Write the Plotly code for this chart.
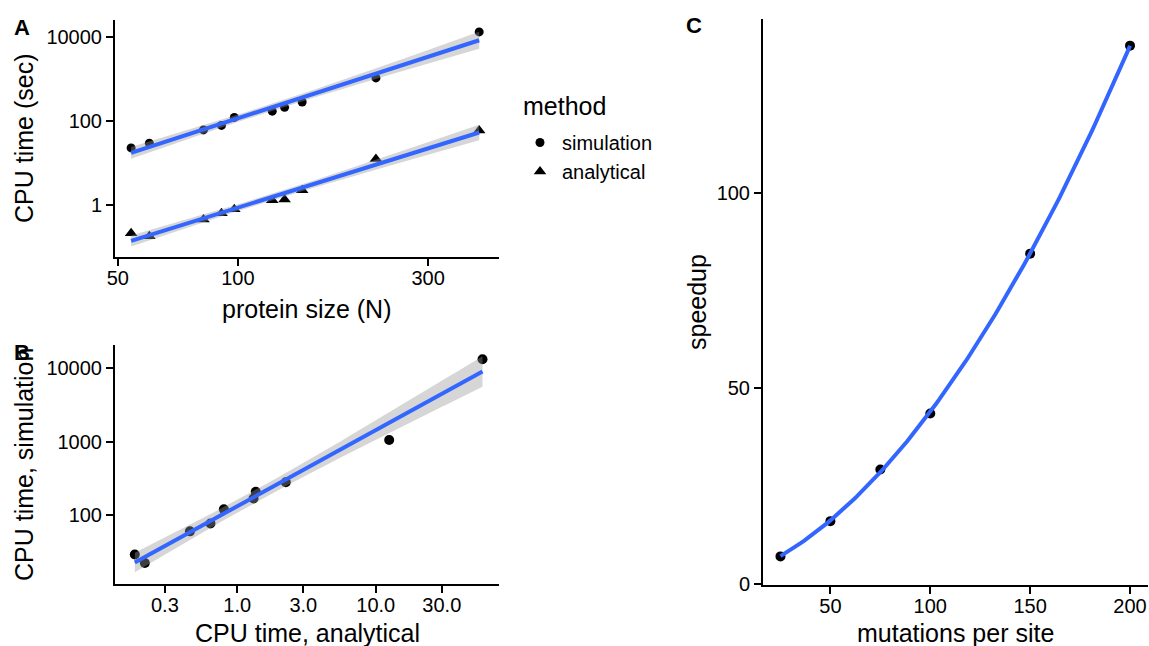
import numpy as np
import plotly.graph_objects as go

# ---------------- data ----------------
protein_size = [54, 60, 82, 91, 98, 122, 131, 145, 222, 403]
time_simulation = [22.8, 29.6, 61, 78, 121, 170, 210, 281, 1050, 13000]
time_analytical = [0.215, 0.182, 0.455, 0.64, 0.80, 1.31, 1.36, 2.24, 12.5, 59.0]

mutations_per_site = [25, 50, 75, 100, 150, 200]
speedup = [7.1, 16.1, 29.3, 43.6, 84.4, 137.5]

a_x_ticks = [50, 100, 300]
a_y_ticks = [1, 100, 10000]
b_x_ticks = [0.3, 1.0, 3.0, 10.0, 30.0]
b_x_labels = ["0.3", "1.0", "3.0", "10.0", "30.0"]
b_y_ticks = [100, 1000, 10000]
c_x_ticks = [50, 100, 150, 200]
c_y_ticks = [0, 50, 100]

# ---------------- helpers ----------------
T_975 = 2.306  # t quantile, df = 8


def loglog_fit(x, y, n=80):
    lx = np.log10(np.asarray(x, float))
    ly = np.log10(np.asarray(y, float))
    b, a = np.polyfit(lx, ly, 1)
    resid = ly - (a + b * lx)
    dof = len(lx) - 2
    s = np.sqrt(np.sum(resid ** 2) / dof)
    sxx = np.sum((lx - lx.mean()) ** 2)
    gx = np.linspace(lx.min(), lx.max(), n)
    gy = a + b * gx
    se = s * np.sqrt(1 / len(lx) + (gx - lx.mean()) ** 2 / sxx)
    return 10 ** gx, 10 ** gy, 10 ** (gy - T_975 * se), 10 ** (gy + T_975 * se)


FONT = "Liberation Sans, Arial, sans-serif"
BLUE = "#3366FF"
RIBBON = "rgba(153,153,153,0.4)"

fig = go.Figure()


def add_fit(fig, x, y, xa, ya):
    gx, gy, lo, hi = loglog_fit(x, y)
    fig.add_trace(go.Scatter(x=gx, y=lo, mode="lines", line=dict(width=0),
                             hoverinfo="skip", showlegend=False, xaxis=xa, yaxis=ya))
    fig.add_trace(go.Scatter(x=gx, y=hi, mode="lines", line=dict(width=0),
                             fill="tonexty", fillcolor=RIBBON,
                             hoverinfo="skip", showlegend=False, xaxis=xa, yaxis=ya))
    fig.add_trace(go.Scatter(x=gx, y=gy, mode="lines", line=dict(color=BLUE, width=4),
                             hoverinfo="skip", showlegend=False, xaxis=xa, yaxis=ya))


# Panel A points
fig.add_trace(go.Scatter(x=protein_size, y=time_simulation, mode="markers", name="simulation",
                         marker=dict(symbol="circle", size=9, color="black"),
                         xaxis="x", yaxis="y", legendgroup="sim"))
fig.add_trace(go.Scatter(x=protein_size, y=time_analytical, mode="markers", name="analytical",
                         marker=dict(symbol="triangle-up", size=11, color="black"),
                         xaxis="x", yaxis="y", legendgroup="ana"))
add_fit(fig, protein_size, time_simulation, "x", "y")
add_fit(fig, protein_size, time_analytical, "x", "y")

# Panel B
fig.add_trace(go.Scatter(x=time_analytical, y=time_simulation, mode="markers",
                         marker=dict(symbol="circle", size=10, color="black"),
                         showlegend=False, xaxis="x2", yaxis="y2"))
add_fit(fig, time_analytical, time_simulation, "x2", "y2")

# Panel C
fig.add_trace(go.Scatter(x=mutations_per_site, y=speedup, mode="markers",
                         marker=dict(symbol="circle", size=10, color="black"),
                         showlegend=False, xaxis="x3", yaxis="y3"))
cc = np.polyfit(mutations_per_site, speedup, 2)
cx = np.linspace(min(mutations_per_site), max(mutations_per_site), 120)
fig.add_trace(go.Scatter(x=cx, y=np.polyval(cc, cx), mode="lines",
                         line=dict(color=BLUE, width=4), hoverinfo="skip",
                         showlegend=False, xaxis="x3", yaxis="y3"))

W, H = 1149, 646


def px_x(p):
    return p / W


def px_y(p):
    return 1 - p / H


axis_common = dict(showline=True, linecolor="black", linewidth=2, ticks="outside",
                   ticklen=7, tickwidth=2, tickcolor="black", showgrid=False,
                   zeroline=False, tickfont=dict(family=FONT, size=20, color="black"),
                   mirror=False, automargin=False)
xaxis_common = dict(axis_common, ticklabelstandoff=-5)

fig.update_layout(
    width=W, height=H, margin=dict(l=0, r=0, t=0, b=0, pad=0), autosize=False,
    paper_bgcolor="white", plot_bgcolor="white",
    font=dict(family=FONT, color="black"),
    xaxis=dict(xaxis_common, type="log", domain=[px_x(115), px_x(499)],
               range=[1.692, 2.655], tickvals=a_x_ticks, ticktext=[str(v) for v in a_x_ticks],
               anchor="y"),
    yaxis=dict(axis_common, type="log", domain=[px_y(257), px_y(20)],
               range=[-1.232, 4.396], tickvals=a_y_ticks, ticktext=[str(v) for v in a_y_ticks],
               anchor="x"),
    xaxis2=dict(xaxis_common, type="log", domain=[px_x(115), px_x(499)],
                range=[-0.883, 1.89], tickvals=b_x_ticks, ticktext=b_x_labels, anchor="y2"),
    yaxis2=dict(axis_common, type="log", domain=[px_y(584), px_y(345)],
                range=[1.073, 4.307], tickvals=b_y_ticks, ticktext=[str(v) for v in b_y_ticks],
                anchor="x2"),
    xaxis3=dict(xaxis_common, domain=[px_x(763), px_x(1147.5)], range=[16.25, 208.75],
                tickvals=c_x_ticks, anchor="y3"),
    yaxis3=dict(axis_common, domain=[px_y(585), px_y(19)], range=[-0.2, 144.3],
                tickvals=c_y_ticks, anchor="x3"),
    legend=dict(x=px_x(518), y=px_y(123), xanchor="left", yanchor="top", itemwidth=34,
                font=dict(family=FONT, size=20, color="black"),
                bgcolor="rgba(0,0,0,0)", borderwidth=0, tracegroupgap=0),
    showlegend=True,
)

ann = []


def label(text, x, y, size, angle=0, bold=False, xanchor="center"):
    ann.append(dict(text=("<b>%s</b>" % text) if bold else text, x=px_x(x), y=px_y(y),
                    xref="paper", yref="paper", showarrow=False, textangle=angle,
                    xanchor=xanchor, yanchor="middle",
                    font=dict(family=FONT, size=size, color="black")))


# panel tags
label("A", 22, 27, 22, bold=True)
label("B", 22, 352, 22, bold=True)
label("C", 694, 25, 22, bold=True)
# legend title
label("method", 521, 106, 25, xanchor="left")
# axis titles
label("protein size (N)", 307, 309, 25)
label("CPU time (sec)", 24, 139, 25, angle=-90)
label("CPU time, analytical", 307, 633, 25)
label("CPU time, simulation", 24, 465, 25, angle=-90)
label("mutations per site", 955, 633, 25)
label("speedup", 697, 302, 25, angle=-90)

fig.update_layout(annotations=ann)

fig.write_html("out.html", config={"displayModeBar": False},
               post_script="document.body.style.margin='0';document.body.style.overflow='hidden';")
